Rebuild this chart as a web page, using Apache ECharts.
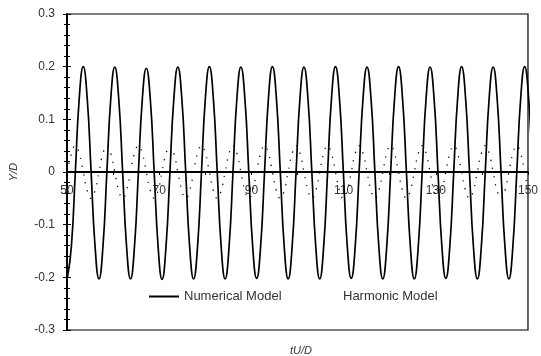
<!DOCTYPE html>
<html><head><meta charset="utf-8">
<script src="https://cdn.jsdelivr.net/npm/echarts@6/dist/echarts.min.js"></script>
<style>html,body{margin:0;padding:0;background:#fff}#c{width:541px;height:356px}</style>
</head><body><div id="c"></div>
<script>
// uniform sampling of the curves (start time and step, tU/D)
const T0 = 50.1, DT = 0.855;
const xLabels = [50, 70, 90, 110, 130, 150];
const yTicks = [-0.3, -0.2, -0.1, 0, 0.1, 0.2, 0.3];
const seriesNames = ['Numerical Model', 'Harmonic Model'];
const numerical = [
  -0.200,-0.141,0,0.141,0.200,0.141,0,-0.141,
  -0.203,-0.142,0,0.140,0.199,0.140,0,-0.142,
  -0.203,-0.142,0,0.139,0.197,0.140,0,-0.142,
  -0.204,-0.142,0,0.140,0.199,0.141,0,-0.142,
  -0.203,-0.142,0,0.141,0.200,0.141,0,-0.142,
  -0.203,-0.142,0,0.141,0.199,0.141,0,-0.142,
  -0.202,-0.142,0,0.141,0.200,0.141,0,-0.142,
  -0.203,-0.142,0,0.141,0.199,0.141,0,-0.142,
  -0.203,-0.142,0,0.141,0.200,0.141,0,-0.142,
  -0.202,-0.142,0,0.141,0.199,0.141,0,-0.142,
  -0.203,-0.142,0,0.141,0.200,0.141,0,-0.142,
  -0.203,-0.142,0,0.141,0.199,0.141,0,-0.142,
  -0.202,-0.142,0,0.141,0.200,0.141,0,-0.142,
  -0.203,-0.142,0,0.141,0.199,0.141,0,-0.142,
  -0.203,-0.142,0,0.141,0.200,0.141,0,-0.142
];
const harmonic = [
  0,0.035,0.050,0.035,0,-0.035,-0.050,-0.035,
  0,0.035,0.050,0.035,0,-0.035,-0.050,-0.035,
  0,0.035,0.050,0.035,0,-0.035,-0.050,-0.035,
  0,0.035,0.050,0.035,0,-0.035,-0.050,-0.035,
  0,0.035,0.050,0.035,0,-0.035,-0.050,-0.035,
  0,0.035,0.050,0.035,0,-0.035,-0.050,-0.035,
  0,0.035,0.050,0.035,0,-0.035,-0.050,-0.035,
  0,0.035,0.050,0.035,0,-0.035,-0.050,-0.035,
  0,0.035,0.050,0.035,0,-0.035,-0.050,-0.035,
  0,0.035,0.050,0.035,0,-0.035,-0.050,-0.035,
  0,0.035,0.050,0.035,0,-0.035,-0.050,-0.035,
  0,0.035,0.050,0.035,0,-0.035,-0.050,-0.035,
  0,0.035,0.050,0.035,0,-0.035,-0.050,-0.035,
  0,0.035,0.050,0.035,0,-0.035,-0.050,-0.035,
  0,0.035,0.050,0.035,0,-0.035,-0.050,-0.035
];
function pairs(v) { return v.map((y, i) => [+(T0 + i * DT).toFixed(3), y]); }

const FONT = 'Liberation Sans, Arial, sans-serif';
const TXT = '#333';
const GRID_TOP = 14, GRID_BOTTOM = 26, H = 356;
const plotH = H - GRID_TOP - GRID_BOTTOM;
const chart = echarts.init(document.getElementById('c'), null, {renderer: 'canvas'});
const yBase = {
  type: 'value', min: -0.3, max: 0.3, interval: 0.1, position: 'left',
  splitLine: {show: false},
  axisLine: {show: true, onZero: false, lineStyle: {color: '#000', width: 1.5}}
};
chart.setOption({
  animation: false,
  backgroundColor: '#fff',
  textStyle: {fontFamily: FONT},
  grid: {left: 67, right: 13, top: GRID_TOP, bottom: GRID_BOTTOM, show: true, borderColor: '#000', borderWidth: 1.2},
  title: {text: 'tU/D', left: 296, top: 340, textAlign: 'center',
    textStyle: {fontSize: 11, fontStyle: 'italic', fontWeight: 'normal', color: TXT, fontFamily: FONT}},
  legend: [
    {left: 149, top: 290, padding: 0, itemWidth: 30, itemHeight: 2, icon: 'rect',
     data: [{name: seriesNames[0], itemStyle: {color: '#000'}}],
     textStyle: {fontSize: 13, color: TXT, fontFamily: FONT}},
    {left: 308, top: 290, padding: 0, itemWidth: 30, itemHeight: 2, icon: 'rect',
     data: [{name: seriesNames[1], itemStyle: {opacity: 0}}],
     textStyle: {fontSize: 13, color: TXT, fontFamily: FONT}}
  ],
  xAxis: {type: 'value', min: 50, max: 150, interval: 10, position: 'bottom',
     offset: -plotH / 2,
     splitLine: {show: false},
     axisLine: {onZero: false, lineStyle: {color: '#000', width: 2}},
     axisTick: {show: true, inside: false, length: 3, lineStyle: {color: '#000'}},
     axisLabel: {margin: 13, fontSize: 12, color: TXT, fontFamily: FONT,
       formatter: v => xLabels.indexOf(v) >= 0 ? String(v) : ''}},
  yAxis: [
    Object.assign({}, yBase, {
      axisTick: {show: true, inside: false, length: 4, lineStyle: {color: '#000'}},
      minorTick: {show: true, splitNumber: 5, length: 3, lineStyle: {color: '#000'}},
      axisLabel: {margin: 12, fontSize: 12, color: TXT, fontFamily: FONT,
        formatter: v => { const r = yTicks.find(t => Math.abs(t - v) < 1e-9); return r === undefined ? '' : String(r); }},
      name: 'Y/D', nameLocation: 'middle', nameGap: 48, nameRotate: 90,
      nameTextStyle: {fontSize: 11, fontStyle: 'italic', color: TXT, fontFamily: FONT}
    }),
    Object.assign({}, yBase, {
      axisTick: {show: true, inside: true, length: 4, lineStyle: {color: '#000'}},
      minorTick: {show: true, splitNumber: 5, length: 3, lineStyle: {color: '#000'}},
      axisLabel: {show: false}
    })
  ],
  series: [
    {name: seriesNames[0], type: 'line', data: pairs(numerical),
     smooth: 0.5, showSymbol: false, symbol: 'none', z: 3,
     lineStyle: {color: '#000', width: 1.7}, itemStyle: {color: '#000'}},
    {name: seriesNames[1], type: 'line', data: pairs(harmonic),
     smooth: 0.5, showSymbol: false, symbol: 'none', z: 2,
     lineStyle: {color: '#111', width: 1.3, type: [1.3, 7]}, itemStyle: {color: '#111'}}
  ]
});
</script></body></html>
